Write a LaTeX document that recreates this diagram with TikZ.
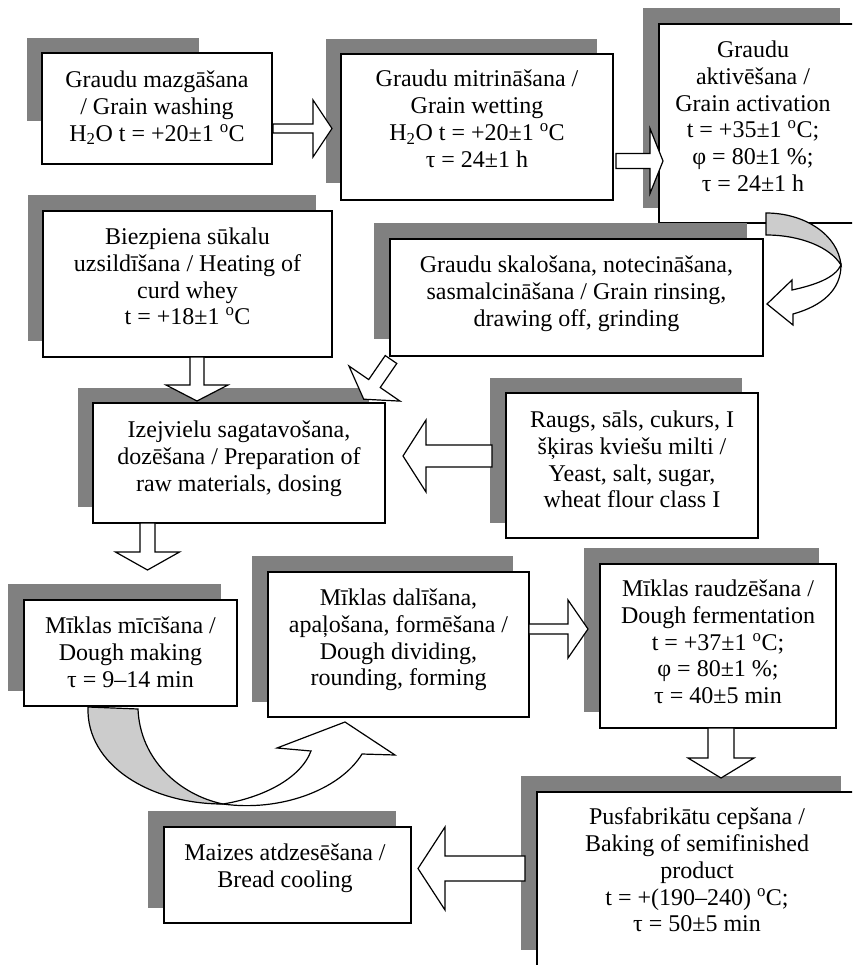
\documentclass[tikz,border=0pt]{standalone}
\usepackage{fontspec}
\setmainfont{Liberation Serif}
\usetikzlibrary{calc,fit}
\definecolor{shadowgray}{RGB}{128,128,128}
\definecolor{bandgray}{RGB}{204,204,204}
\tikzset{
  procbox/.style={draw=black, fill=white, line width=1.6pt, inner sep=0pt, outer sep=0pt, rectangle},
  shadowfill/.style={fill=shadowgray},
  txt/.style={inner sep=0pt, align=center, anchor=north, font=\fontsize{24}{26.8}\selectfont},
  blockarrow/.style={draw=black, fill=white, line width=1.2pt, line join=miter},
  backband/.style={draw=black, fill=bandgray, line width=1.2pt},
}
\newcommand\pbox[9]{%
  \fill[shadowfill] (#2,#3) rectangle (#4,#5);
  \node[procbox, fit={(#6,#7) (#8,#9)}] (#1) {};
}
\newcommand\blockarr[5]{%
  \coordinate (ah) at ($(#2)!#5pt!(#1)$);
  \draw[blockarrow] ($(#1)!#3pt!90:(#2)$) -- ($(ah)!#3pt!90:(#2)$) -- ($(ah)!#4pt!90:(#2)$) -- (#2) -- ($(ah)!#4pt!-90:(#2)$) -- ($(ah)!#3pt!-90:(#2)$) -- ($(#1)!#3pt!-90:(#2)$) -- cycle;
}
\newcommand\dg{\textsuperscript{o}C}
\begin{document}
\begin{tikzpicture}[x=1pt,y=-1pt]
\useasboundingbox (0,0) rectangle (852,965);
\fill[white] (0,0) rectangle (852,965);
\clip (0,0) rectangle (852,965);

% boxes with shadows
\pbox{b1}{27}{38}{199}{121}{42}{53}{272}{164}
\pbox{b2}{326}{39}{597}{183}{341}{54}{613}{200}
\pbox{b3}{643}{8}{840}{208}{659}{24}{862}{223}
\pbox{b4}{28}{195}{316}{341}{43}{211}{332}{357}
\pbox{b5}{374}{223}{747}{339}{390}{239}{763}{356}
\pbox{b6}{78}{388}{369}{507}{93}{403}{385}{523}
\pbox{b7}{490}{378}{742}{523}{506}{393}{758}{538}
\pbox{b8}{8}{584}{221}{691}{24}{600}{237}{706}
\pbox{b9}{252}{556}{513}{702}{268}{572}{529}{717}
\pbox{b10}{584}{548}{819}{712}{600}{564}{836}{728}
\pbox{b11}{521}{776}{841}{950}{537}{792}{862}{980}
\pbox{b12}{148}{811}{396}{908}{164}{827}{411}{923}

% texts
\node[txt] (t1) at (157,70.6) {Graudu mazgāšana\\/ Grain washing\\H\textsubscript{2}O t = +20±1 \dg};
\node[txt] (t2) at (477,70.1) {Graudu mitrināšana /\\Grain wetting\\H\textsubscript{2}O t = +20±1 \dg\\τ = 24±1 h};
\node[txt] (t3) at (753,40.6) {Graudu\\aktivēšana /\\Grain activation\\t = +35±1 \dg;\\φ = 80±1 \%;\\τ = 24±1 h};
\node[txt] (t4) at (187.5,227.6) {Biezpiena sūkalu\\uzsildīšana / Heating of\\curd whey\\t = +18±1 \dg};
\node[txt] (t5) at (576.5,255.6) {Graudu skalošana, notecināšana,\\sasmalcināšana / Grain rinsing,\\drawing off, grinding};
\node[txt] (t6) at (239,420.6) {Izejvielu sagatavošana,\\dozēšana / Preparation of\\raw materials, dosing};
\node[txt] (t7) at (632,410.6) {Raugs, sāls, cukurs, I\\šķiras kviešu milti /\\Yeast, salt, sugar,\\wheat flour class I};
\node[txt] (t8) at (130.5,616.6) {Mīklas mīcīšana /\\Dough making\\τ = 9–14 min};
\node[txt] (t9) at (398.5,588.6) {Mīklas dalīšana,\\apaļošana, formēšana /\\Dough dividing,\\rounding, forming};
\node[txt] (t10) at (718,579.6) {Mīklas raudzēšana /\\Dough fermentation\\t = +37±1 \dg;\\φ = 80±1 \%;\\τ = 40±5 min};
\node[txt] (t11) at (697,807.6) {Pusfabrikātu cepšana /\\Baking of semifinished\\product\\t = +(190–240) \dg;\\τ = 50±5 min};
\node[txt] (t12) at (285,843.6) {Maizes atdzesēšana /\\Bread cooling};

% straight block arrows
\coordinate (a1s) at (273,128.5);   \coordinate (a1e) at (332,128.5);
\coordinate (a2s) at (616,161);     \coordinate (a2e) at (663,161);
\coordinate (a3s) at (197,357);     \coordinate (a3e) at (197,401);
\coordinate (a4s) at (391,359.5);   \coordinate (a4e) at (363.7,399.2);
\coordinate (a5s) at (492,456);     \coordinate (a5e) at (403,456);
\coordinate (a6s) at (147.5,523);   \coordinate (a6e) at (147.5,570);
\coordinate (a7s) at (529,629);     \coordinate (a7e) at (588,629);
\coordinate (a8s) at (721,728);     \coordinate (a8e) at (721,778);
\coordinate (a9s) at (525,868.5);   \coordinate (a9e) at (418,868.5);
\blockarr{a1s}{a1e}{4.5}{28.5}{19}
\blockarr{a2s}{a2e}{7.5}{32.5}{13}
\blockarr{a3s}{a3e}{7}{31}{16}
\blockarr{a4s}{a4e}{7}{31}{19}
\blockarr{a5s}{a5e}{11}{36}{23}
\blockarr{a6s}{a6e}{7.5}{32}{18}
\blockarr{a7s}{a7e}{5}{29}{20}
\blockarr{a8s}{a8e}{13}{33}{20}
\blockarr{a9s}{a9e}{12.5}{41.5}{27}

% curved arrow: activation -> rinsing
\draw[backband] (766,213) -- (766,235) .. controls (800,235) and (830,247) .. (841,265) .. controls (838,235) and (805,213) .. (766,213) -- cycle;
\draw[blockarrow] (841,265) .. controls (835,278) and (815,285) .. (792,290) -- (792,280) -- (767,304) -- (793,325) -- (793,314) .. controls (822,306) and (841,290) .. (841,265) -- cycle;

% curved arrow: dough making -> dividing
\draw[backband] (88,707) -- (138,709) .. controls (140,760) and (180,795) .. (223,804) .. controls (150,804) and (86,765) .. (88,707) -- cycle;
\draw[blockarrow] (223,804) .. controls (260,798) and (300,780) .. (311,751) -- (277,748) -- (345,722) -- (395,755) -- (362,754) .. controls (340,790) and (280,812) .. (223,804) -- cycle;
\end{tikzpicture}
\end{document}
